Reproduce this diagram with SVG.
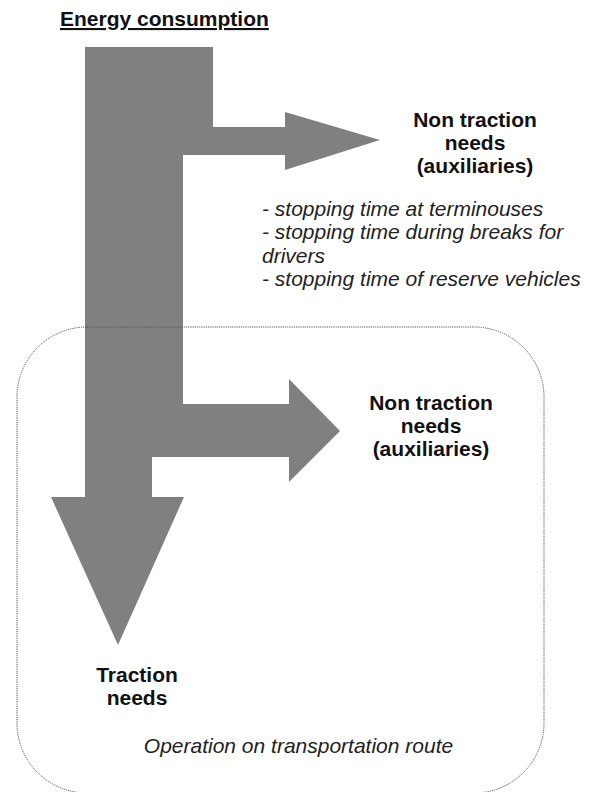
<svg xmlns="http://www.w3.org/2000/svg" width="592" height="792" viewBox="0 0 592 792">
  <style>
    .flow { fill: #808080; stroke: none; }
    .frame { fill: none; stroke: #555555; stroke-width: 1; stroke-dasharray: 1.2 1; }
    .b { font-family: "Liberation Sans", Arial, sans-serif; font-size: 21px; font-weight: bold; fill: #111111; text-anchor: middle; }
    .i { font-family: "Liberation Sans", Arial, sans-serif; font-size: 21px; font-style: italic; fill: #222222; }
  </style>
  <rect x="0" y="0" width="592" height="792" fill="#ffffff"/>

  <g id="connectors">
    <polygon class="flow" points="85,47 213,47 213,127 285,127 285,112 380,140 285,170 285,155 183,155 183,404 289,404 289,379 340,431 289,482 289,457 152,457 152,497 184,497 118,645 51,497 85,497"/>
  </g>

  <g id="route-frame">
    <rect class="frame" x="17" y="327" width="527" height="466" rx="70" ry="70"/>
  </g>

  <g id="energy-consumption">
    <text class="b" x="60" y="26" style="text-anchor:start" text-decoration="underline">Energy consumption</text>
  </g>

  <g id="non-traction-1">
    <text class="b" x="475" y="127">Non traction</text>
    <text class="b" x="475" y="150">needs</text>
    <text class="b" x="475" y="173">(auxiliaries)</text>
  </g>

  <g id="stopping-list">
    <text class="i" x="262" y="216">- stopping time at terminouses</text>
    <text class="i" x="262" y="239">- stopping time during breaks for</text>
    <text class="i" x="262" y="263">drivers</text>
    <text class="i" x="262" y="286">- stopping time of reserve vehicles</text>
  </g>

  <g id="non-traction-2">
    <text class="b" x="431" y="410">Non traction</text>
    <text class="b" x="431" y="433">needs</text>
    <text class="b" x="431" y="456">(auxiliaries)</text>
  </g>

  <g id="traction-needs">
    <text class="b" x="137" y="682">Traction</text>
    <text class="b" x="137" y="705">needs</text>
  </g>

  <g id="operation-label">
    <text class="i" x="298.5" y="753" style="text-anchor:middle">Operation on transportation route</text>
  </g>
</svg>
